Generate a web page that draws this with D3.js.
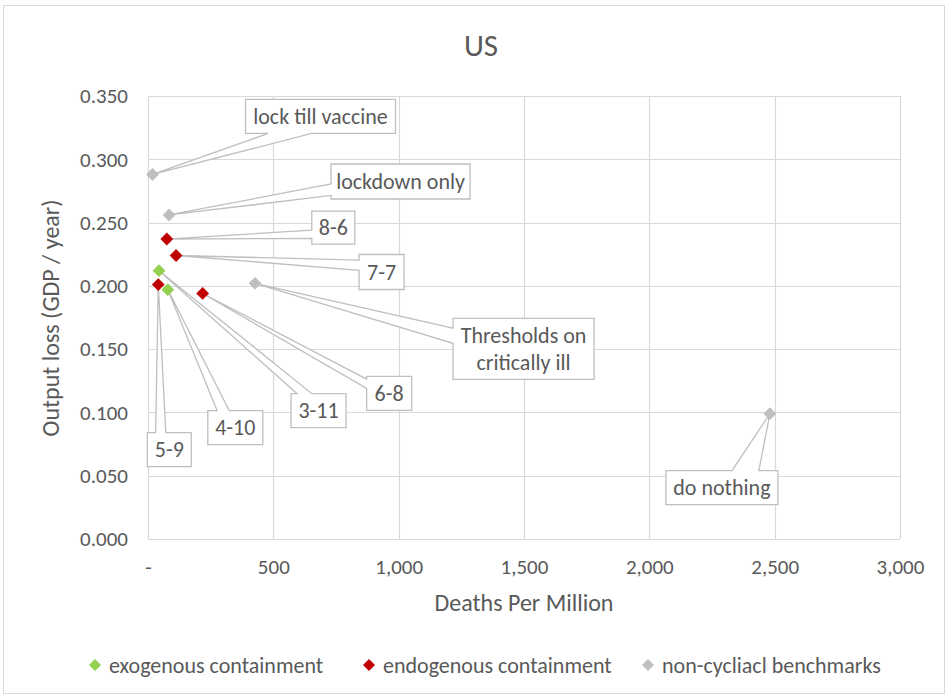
<!DOCTYPE html>
<html>
<head>
<meta charset="utf-8">
<script src="https://cdn.jsdelivr.net/npm/d3@7"></script>
<style>
  html, body { margin: 0; padding: 0; background: #fff; }
  svg text { font-family: Carlito, Lato, "Open Sans", sans-serif; fill: #595959; }
</style>
</head>
<body>
<svg id="chart" width="948" height="698"></svg>
<script>
// Scenario results: deaths per million vs. output loss
const labels = ["lock till vaccine", "lockdown only", "8-6", "7-7", "Thresholds on\ncritically ill", "6-8", "3-11", "4-10", "5-9", "do nothing"];
const deaths = [18, 84, 75, 112, 427, 218, 44, 79, 41, 2481];
const outputLoss = [0.288, 0.256, 0.237, 0.224, 0.202, 0.194, 0.212, 0.197, 0.201, 0.099];
const groups = ["bench", "bench", "endo", "endo", "bench", "endo", "exo", "exo", "endo", "bench"];

const seriesKeys = ["exo", "endo", "bench"];
const seriesNames = ["exogenous containment", "endogenous containment", "non-cycliacl benchmarks"];
const seriesColors = ["#92D050", "#C00000", "#BFBFBF"];

const xTicks = [0, 500, 1000, 1500, 2000, 2500, 3000];
const yTicks = [0, 0.05, 0.1, 0.15, 0.2, 0.25, 0.3, 0.35];

// Callout placement: box offset from its point (px), box size, edge the pointer leaves from, pointer base fractions
const callouts = {
  "lock till vaccine": { dx: 93, dy: -75, w: 150, h: 34, edge: "bottom", f: [0.15, 0.44] },
  "lockdown only": { dx: 162, dy: -51, w: 139, h: 35, edge: "left", f: [0.57, 0.9] },
  "8-6": { dx: 145, dy: -28, w: 43, h: 33, edge: "left", f: [0.58, 0.83] },
  "7-7": { dx: 183, dy: -1, w: 45, h: 35, edge: "left", f: [0.16, 0.45] },
  "Thresholds on\ncritically ill": { dx: 198, dy: 35, w: 141, h: 61, edge: "left", f: [0.16, 0.41] },
  "6-8": { dx: 164, dy: 83, w: 45, h: 34, edge: "left", f: [0.08, 0.35] },
  "3-11": { dx: 132, dy: 123, w: 55, h: 34, edge: "top", f: [0.11, 0.38] },
  "4-10": { dx: 40, dy: 121, w: 55, h: 34, edge: "top", f: [0.17, 0.39] },
  "5-9": { dx: -11, dy: 148, w: 44, h: 34, edge: "top", f: [0.19, 0.42] },
  "do nothing": { dx: -104, dy: 57, w: 112, h: 34, edge: "top", f: [0.59, 0.83] }
};

const svg = d3.select("#chart");
const W = 948, H = 698;
const margin = { left: 148, right: 48, top: 96, bottom: 159 };

// outer chart frame
svg.append("rect").attr("x", 3.5).attr("y", 5.5).attr("width", W - 7).attr("height", H - 10)
  .attr("fill", "#fff").attr("stroke", "#D9D9D9").attr("stroke-width", 1);

const x = d3.scaleLinear().domain([0, 3000]).range([margin.left, W - margin.right]);
const y = d3.scaleLinear().domain([0, 0.35]).range([H - margin.bottom, margin.top]);

// gridlines
const grid = svg.append("g").attr("stroke", "#D9D9D9").attr("stroke-width", 1.2);
grid.selectAll("line.v").data(xTicks).join("line")
  .attr("x1", d => Math.round(x(d)) + 0.5).attr("x2", d => Math.round(x(d)) + 0.5)
  .attr("y1", y(0.35)).attr("y2", y(0));
grid.selectAll("line.h").data(yTicks).join("line")
  .attr("x1", x(0)).attr("x2", x(3000))
  .attr("y1", d => Math.round(y(d)) + 0.5).attr("y2", d => Math.round(y(d)) + 0.5);

// axes (labels only)
const fmtX = d => d === 0 ? "-" : d3.format(",")(d);
const xAxis = svg.append("g").attr("transform", `translate(0,${y(0)})`)
  .call(d3.axisBottom(x).tickValues(xTicks).tickFormat(fmtX).tickSize(0).tickPadding(20));
const yAxis = svg.append("g").attr("transform", `translate(${x(0)},0)`)
  .call(d3.axisLeft(y).tickValues(yTicks).tickFormat(d3.format(".3f")).tickSize(0).tickPadding(20));
[xAxis, yAxis].forEach(a => {
  a.select(".domain").remove();
  a.selectAll("text").attr("font-size", 21).attr("fill", "#595959")
    .style("font-family", "Carlito, Lato, sans-serif");
});
xAxis.selectAll("text").attr("dy", "0.32em").attr("y", 28);

// title and axis titles
svg.append("text").attr("x", 481).attr("y", 56).attr("text-anchor", "middle")
  .attr("font-size", 31).text("US");
svg.append("text").attr("x", 524).attr("y", 611).attr("text-anchor", "middle")
  .attr("font-size", 24).text("Deaths Per Million");
svg.append("text").attr("transform", "translate(59,318) rotate(-90)").attr("text-anchor", "middle")
  .attr("font-size", 24).text("Output loss (GDP / year)");

// data points
const pts = labels.map((l, i) => ({ label: l, x: deaths[i], y: outputLoss[i], g: groups[i] }));
const color = d3.scaleOrdinal().domain(seriesKeys).range(seriesColors);

function calloutPath(px, py, c) {
  const l = px + c.dx, t = py + c.dy, r = l + c.w, b = t + c.h;
  const corners = [[l, t], [r, t], [r, b], [l, b]];
  const edgeIdx = { top: 0, right: 1, bottom: 2, left: 3 }[c.edge];
  const pts2 = [];
  for (let i = 0; i < 4; i++) {
    pts2.push(corners[i]);
    if (i === edgeIdx) {
      const a = corners[i], z = corners[(i + 1) % 4];
      // fractions measured from left (top/bottom) or top (left/right); convert to clockwise parameter
      let params = c.f.map(f => (c.edge === "top" || c.edge === "right") ? f : 1 - f).sort((m, n) => m - n);
      const p = params.map(s => [a[0] + (z[0] - a[0]) * s, a[1] + (z[1] - a[1]) * s]);
      pts2.push(p[0], [px, py], p[1]);
    }
  }
  return { d: "M" + pts2.map(q => q.join(",")).join("L") + "Z", l, t };
}

// callouts drawn beneath the markers
const cg = svg.append("g");
pts.forEach(p => {
  const c = callouts[p.label];
  const px = x(p.x), py = y(p.y);
  const cp = calloutPath(px, py, c);
  cg.append("path").attr("d", cp.d).attr("fill", "#fff").attr("stroke", "#BFBFBF").attr("stroke-width", 1.3);
  const lines = p.label.split("\n");
  const t = cg.append("text").attr("text-anchor", "middle").attr("font-size", 22);
  const lh = 27;
  const cy0 = cp.t + c.h / 2 - (lines.length - 1) * lh / 2;
  lines.forEach((ln, k) => {
    t.append("tspan").attr("x", cp.l + c.w / 2).attr("y", cy0 + k * lh).attr("dy", "0.35em").text(ln);
  });
});

const diamond = d3.symbol().type(d3.symbolSquare).size(82);
svg.append("g").selectAll("path").data(pts).join("path")
  .attr("d", diamond)
  .attr("transform", d => `translate(${x(d.x)},${y(d.y)}) rotate(45)`)
  .attr("fill", d => color(d.g));

// legend
const legendX = [95, 369, 648];
const lg = svg.append("g");
seriesKeys.forEach((k, i) => {
  lg.append("path").attr("d", d3.symbol().type(d3.symbolSquare).size(72))
    .attr("transform", `translate(${legendX[i]},665) rotate(45)`).attr("fill", seriesColors[i]);
  lg.append("text").attr("x", legendX[i] + 14).attr("y", 665).attr("dy", "0.35em")
    .attr("font-size", 22).text(seriesNames[i]);
});
</script>
</body>
</html>
